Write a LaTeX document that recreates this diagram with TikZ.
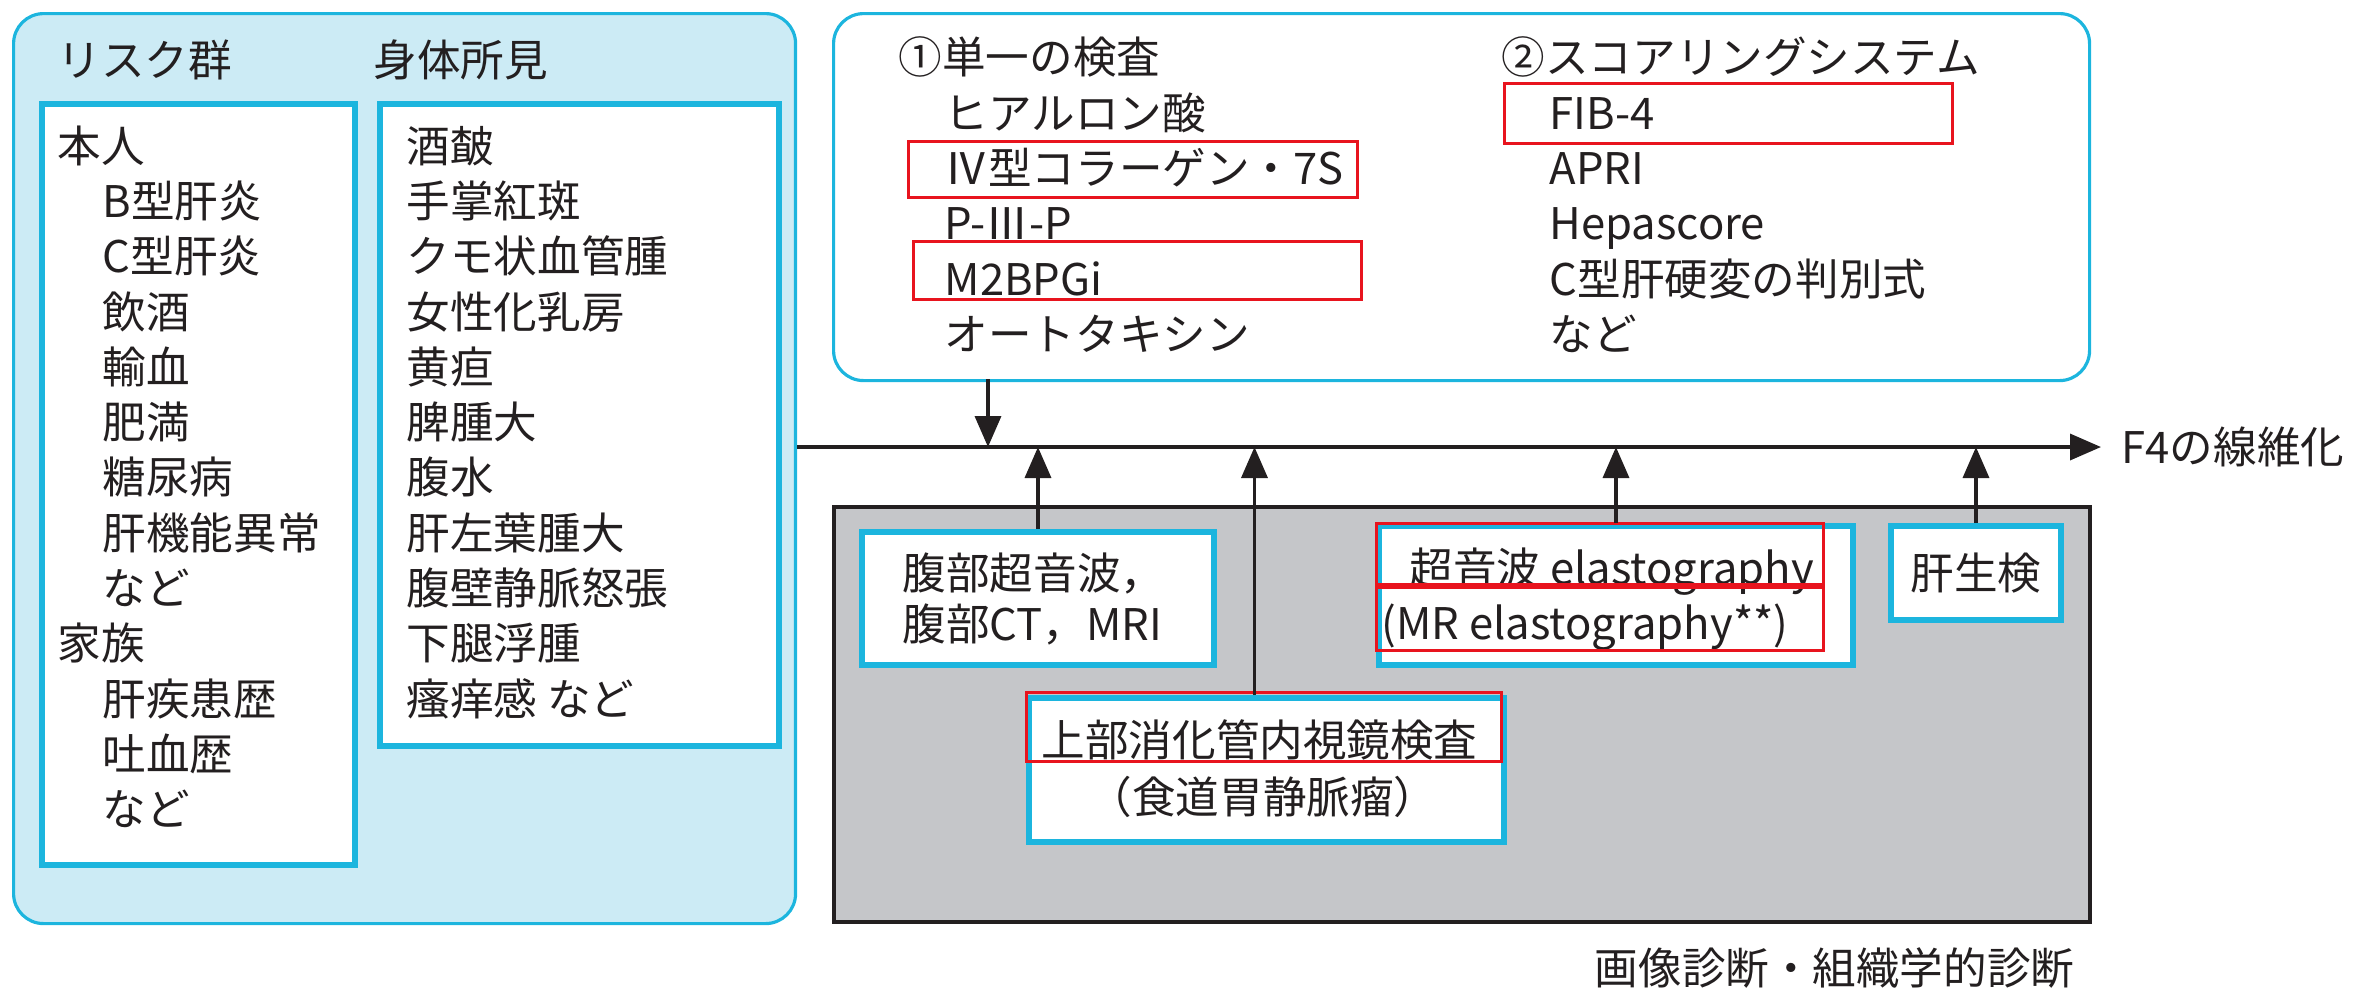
\documentclass[tikz,border=0pt]{standalone}
\usepackage{fontspec}
\setmainfont{Noto Sans CJK JP}
\usetikzlibrary{arrows.meta, positioning}
\definecolor{panelcyan}{HTML}{1CB5DE}
\definecolor{panelfill}{HTML}{CCEBF5}
\definecolor{diaggray}{HTML}{C5C6C9}
\definecolor{inkdark}{HTML}{231F20}
\definecolor{markred}{HTML}{E8141E}

\begin{document}
\begin{tikzpicture}[x=0.1mm, y=-0.1mm, >={Triangle[length=3.1mm,width=2.6mm]},
      every node/.style={text=inkdark, font=\fontsize{12.4}{15}\selectfont},
      panel/.style={draw=panelcyan, line width=0.9pt, rounded corners=3mm, anchor=north west, inner sep=0pt},
      listbox/.style={draw=panelcyan, fill=white, line width=1.7pt, anchor=north west, inner sep=0pt},
      item/.style={anchor=west, inner sep=0pt, text height=10.8pt, text depth=1.6pt},
      redmark/.style={draw=markred, line width=0.85pt},
      arr/.style={->, draw=inkdark, line width=1pt}]
      \useasboundingbox (0,0) rectangle (2358,991);

      % risk group and physical findings
      \node[panel, fill=panelfill, minimum width=78.2mm, minimum height=91.0mm] (risk) at (12,12) {};
      \node[item] (riskhead) at (57,60) {リスク群};
      \node[item] (bodyhead) at (373,60) {身体所見};
      \node[listbox, minimum width=31.3mm, minimum height=76.1mm] (risklist) at (39,101) {};
      \node[listbox, minimum width=39.9mm, minimum height=64.2mm] (bodylist) at (377,101) {};
      \foreach \x/\t [count=\i from 0] in {57/本人, 102/B型肝炎, 102/C型肝炎, 102/飲酒, 102/輸血, 102/肥満,
          102/糖尿病, 102/肝機能異常, 102/など, 57/家族, 102/肝疾患歴, 102/吐血歴, 102/など}
        \node[item] (r\i) at (\x, 146+55.3*\i) {\t};
      \foreach \t [count=\i from 0] in {酒皶, 手掌紅斑, クモ状血管腫, 女性化乳房, 黄疸, 脾腫大, 腹水,
          肝左葉腫大, 腹壁静脈怒張, 下腿浮腫, 瘙痒感 など}
        \node[item] (b\i) at (406, 146+55.3*\i) {\t};

      % blood tests
      \node[panel, fill=white, minimum width=125.6mm, minimum height=36.7mm] (tests) at (832,12) {};
      \node[item] (singlehead) at (898,57) {①単一の検査};
      \node[item] (scorehead) at (1501,57) {②スコアリングシステム};
      \foreach \t [count=\i from 0] in {ヒアルロン酸, Ⅳ型コラーゲン・7S, P-Ⅲ-P, M2BPGi, オートタキシン}
        \node[item] (s\i) at (944, 113+55.3*\i) {\t};
      \foreach \t [count=\i from 0] in {FIB-4, APRI, Hepascore, C型肝硬変の判別式, など}
        \node[item] (c\i) at (1549, 113+55.3*\i) {\t};
      \draw[redmark] (908,141) rectangle (1357,197);
      \draw[redmark] (913,241) rectangle (1361,299);
      \draw[redmark] (1504,83) rectangle (1952,143);

      % imaging and histology
      \node[draw=inkdark, fill=diaggray, line width=1.1pt, anchor=north west, inner sep=0pt,
            minimum width=125.6mm, minimum height=41.5mm] (imaging) at (832,505) {};
      \node[item, anchor=north east] (caption) at (2075,946) {画像診断・組織学的診断};
      \node[listbox, minimum width=35.2mm, minimum height=13.3mm] (abdo) at (859,529) {};
      \node[item] (abdo1) at (902,573) {腹部超音波，};
      \node[item] (abdo2) at (902,624) {腹部CT，MRI};
      \node[listbox, minimum width=47.5mm, minimum height=14.4mm] (endo) at (1026,695) {};
      \node[item] (endo1) at (1041,740) {上部消化管内視鏡検査};
      \node[item, anchor=center] (endo2) at (1263,797) {（食道胃静脈瘤）};
      \node[listbox, minimum width=47.4mm, minimum height=13.9mm] (elasto) at (1376,523) {};
      \node[item] (elasto1) at (1409,568) {超音波 elastography};
      \node[item] (elasto2) at (1381,623) {(MR elastography**)};
      \node[listbox, minimum width=17.0mm, minimum height=9.4mm] (biopsy) at (1888,523) {};
      \node[item, anchor=center] (biopsy1) at (biopsy.center) {肝生検};
      \draw[redmark] (1026,692) rectangle (1501,761);
      \draw[redmark] (1376,523) rectangle (1823,584);
      \draw[redmark] (1376,587) rectangle (1823,650);

      % fibrosis axis
      \node[item, inner xsep=2mm] (f4) at (2101,447) {F4の線維化};
      \draw[arr] (risk.east |- f4.west) -- (f4.west);
      \coordinate (tdrop) at (988,379);
      \coordinate (endoup) at ([xshift=-1.2mm]endo.north);
      \draw[arr] (tdrop) -- (tdrop |- f4.west);
      \draw[arr] (abdo.north) -- (abdo.north |- f4.west);
      \draw[arr] (endoup) -- (endoup |- f4.west);
      \draw[arr] (elasto.north) -- (elasto.north |- f4.west);
      \draw[arr] (biopsy.north) -- (biopsy.north |- f4.west);
    \end{tikzpicture}
\end{document}
